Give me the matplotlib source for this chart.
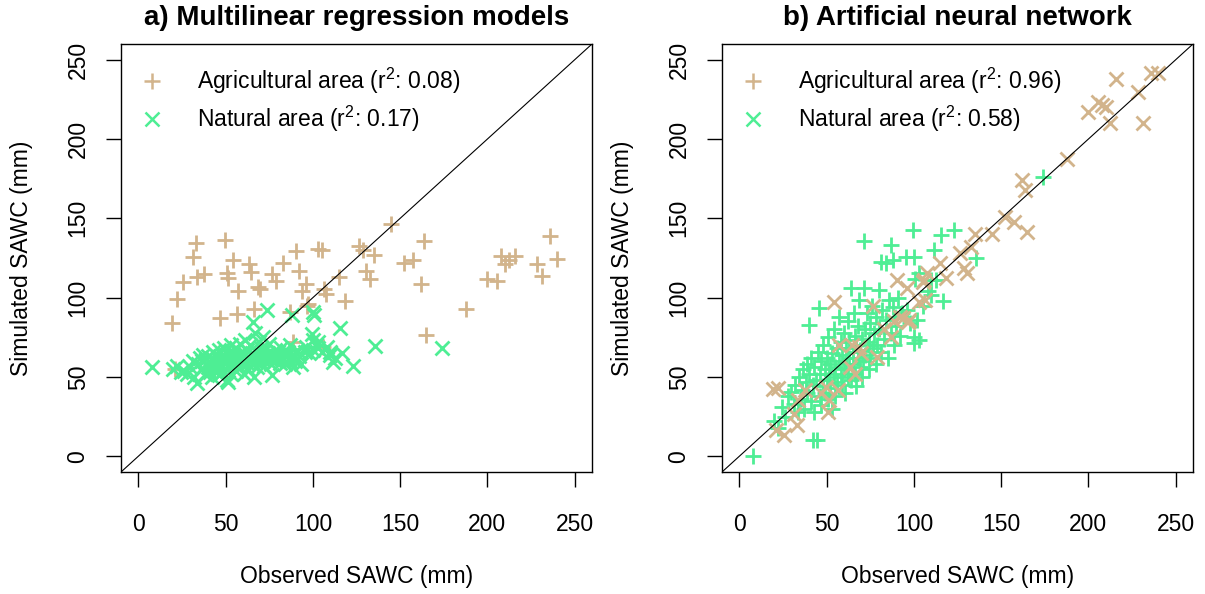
import numpy as np
import matplotlib.pyplot as plt
from matplotlib.lines import Line2D

plt.rcParams['font.family'] = ['Liberation Sans', 'DejaVu Sans']
plt.rcParams['mathtext.default'] = 'regular'

# Agricultural area: observed, simulated (MLR), simulated (ANN)
agr_obs = [19.5, 21, 22, 25.8, 31.5, 33, 33.5, 37.5, 46.8, 49.7, 50.6, 51.6, 54.4, 56.3,
           57.3, 63.4, 64.5, 66, 68.5, 69.7, 76.7, 79, 82.8, 86.6, 88.5, 90.4, 92.2, 94,
           96, 96.4, 97.4, 103, 105.2, 105.8, 106.5, 107.7, 114.8, 118.2, 126.5, 128.5,
           130.5, 133, 135.3, 145, 152.4, 157.2, 162, 163.8, 164.6, 187.6, 200, 205.6,
           207.6, 210, 212.5, 215.7, 228.6, 231.5, 235.7, 240]
agr_mlr = [83.8, 54.8, 98.9, 109.8, 125.7, 134.6, 113, 115.2, 87.3, 136.6, 115.7, 112.5, 124, 89.4,
           104, 121.5, 116, 92.6, 106.9, 105.2, 115.2, 110.5, 122, 90.9, 72, 129.3, 116.7, 104,
           108.3, 94.6, 96, 130.8, 130, 69, 105.2, 102, 113, 97.8, 132.4, 130,
           116.7, 111.5, 127.2, 146.7, 122, 124, 108.3, 135.6, 76.2, 92.6, 111.5, 110.4,
           126, 121, 124, 126, 121, 113.5, 138.7, 124.5]
agr_ann = [42.5, 16.4, 43, 13.2, 26.9, 19.6, 35.3, 41.6, 39.6, 43.7, 28, 35.3, 97.3, 41.6,
           70, 56.3, 70, 52, 69, 64.8, 94.6, 62.6, 80, 75, 85, 111, 87.9, 86.9,
           105.8, 84.7, 85.8, 97.3, 110, 111, 98.4, 115.3, 121.6, 112.1, 127.9, 118.4,
           115.3, 132, 140, 140, 151, 147.8, 174.1, 167.8, 141.5, 187.4, 217.2, 223.5,
           221.5, 220.4, 209.9, 237.7, 229.8, 209.9, 241.4, 241.8]

# Natural area: observed, simulated (MLR), simulated (ANN)
nat_obs = [7.6, 20, 22, 24.6, 26, 28, 29.6, 31, 32, 33.4, 34, 35, 36, 36.5, 37, 38, 38.5, 39,
           40, 40, 41, 41, 42, 42, 43, 43, 44, 44.7, 45, 45.8, 46, 46, 47, 47, 48, 48, 49, 49,
           50, 50, 50.5, 51, 51.5, 52, 52, 53, 53, 54, 54, 55, 55, 56, 56, 57, 57, 58, 58,
           59, 59, 60, 60, 60.5, 61, 61, 62, 62, 63, 63, 64, 64, 65, 65, 65.8, 66, 66, 67, 67,
           68, 68, 68.8, 69, 69, 70, 70, 71, 71.6, 71.6, 72, 72, 73, 73.5, 74, 74, 75, 75,
           76, 76.4, 77, 78, 78, 79, 80, 80.2, 81, 81.2, 82, 83, 84, 84, 85, 86, 86.9, 87,
           87.8, 87.9, 88.8, 89, 90, 91, 92, 93, 95.5, 96, 98, 99.3, 100.2, 100.3, 100.3,
           100.6, 102, 103.2, 103.2, 105, 108, 109.8, 110, 111.7, 112.7, 115.5, 116.5, 123,
           135.6, 173.9]
nat_mlr = [56.5, 55, 57, 53, 54, 52, 56, 60, 50, 46, 58, 62, 55, 60, 64, 52, 58, 61,
           56, 63, 53, 59, 50, 62, 57, 66, 54, 60, 63, 58, 51, 67, 56, 61, 64, 53, 59, 68,
           55, 62, 48, 60, 47, 65, 57, 70, 52, 61, 66, 58, 63, 54, 68, 60, 64, 56, 71,
           62, 58, 66, 60, 52, 64, 73, 59, 67, 62, 55, 70, 61, 65, 58, 84.7, 63, 50, 77.6, 60,
           66, 56, 62, 72, 59, 64, 68, 61, 75, 66, 57, 63, 69, 92, 60, 65, 62, 71,
           58, 51, 64, 67, 60, 63, 66, 62, 59, 64, 68, 61, 65, 58, 63, 66, 70, 60,
           89, 62, 56.3, 64, 60, 67, 63, 58, 66, 69, 65, 76.8, 91, 73, 67,
           89, 70, 68, 72, 66, 69, 64, 66, 59.5, 62, 80.6, 65, 57,
           69.5, 68.5]
nat_ann = [0, 22, 18, 31, 25, 38, 40.6, 33, 45, 28, 50, 36, 42, 55, 30, 47, 58, 40,
           82.6, 52, 35, 62, 10, 45, 28, 56, 48, 10, 66, 93.2, 38, 52, 60, 32, 44, 70, 55, 40,
           62, 48, 36, 75, 52, 58, 43, 65, 30, 50, 80, 56, 38, 68, 47, 60, 88, 52, 72,
           45, 64, 55, 78, 40, 68, 58, 50, 85, 62, 73, 105.8, 48, 66, 58, 90, 76, 52, 70, 44,
           62, 82, 98.4, 56, 67, 74, 50, 60, 135.8, 105.8, 80, 64, 90, 70, 55, 72, 84, 62,
           95, 68, 78, 58, 88, 70, 80, 104.7, 66, 122.6, 92, 74, 121.6, 86, 62, 98.4, 133.1, 78,
           94, 123.7, 70, 88, 82, 100, 76, 90, 125.7, 92, 84, 142.6, 71.1, 125.7, 75.3,
           112, 86, 73.2, 115.3, 95, 104, 101.6, 111, 130, 111, 139.4, 98, 142.6,
           125.3, 176.2]

tan = '#D2B48C'
green = '#4EEE94'
ticks = [0, 50, 100, 150, 200, 250]
fs = 16.5

fig = plt.figure(figsize=(12.05, 5.94), dpi=100)
ax_a = fig.add_axes([121 / 1205, 122 / 594, 471 / 1205, 428 / 594])
ax_b = fig.add_axes([722 / 1205, 122 / 594, 471 / 1205, 428 / 594])


def style(ax, title, labels):
    ax.set_xlim(-10, 260)
    ax.set_ylim(-10, 260)
    ax.set_xticks(ticks)
    ax.set_yticks(ticks)
    ax.tick_params(direction='out', length=10.6, width=1, labelsize=fs)
    ax.tick_params(axis='x', pad=19)
    ax.tick_params(axis='y', pad=12)
    for lab in ax.get_yticklabels():
        lab.set_rotation(90)
        lab.set_va('center')
    for s in ax.spines.values():
        s.set_linewidth(1)
    ax.axline((0, 0), slope=1, color='black', lw=0.8)
    ax.set_title(title, fontsize=20, fontweight='bold', y=1 + 26 / 428, va='center', pad=0)
    ax.set_xlabel('Observed SAWC (mm)', fontsize=fs)
    ax.set_ylabel('Simulated SAWC (mm)', fontsize=fs)
    ax.xaxis.set_label_coords(0.5, -105 / 428)
    ax.yaxis.set_label_coords(-99 / 471, 0.5)
    ax.xaxis.label.set_va('center')
    ax.yaxis.label.set_va('center')
    handles = [Line2D([], [], ls='none', marker='+', color=tan, ms=11, mew=1.8),
               Line2D([], [], ls='none', marker='x', color=green, ms=9.5, mew=1.8)]
    ax.legend(handles, labels, loc='upper left', frameon=False, fontsize=fs,
              borderaxespad=0, borderpad=0.35, handlelength=2, handletextpad=0.95,
              labelspacing=0.33, bbox_to_anchor=(0, 1 - 14 / 428))


# a) MLR: agricultural first, natural on top
ax_a.plot(agr_obs, agr_mlr, ls='none', marker='+', color=tan, ms=12, mew=2)
ax_a.plot(nat_obs, nat_mlr, ls='none', marker='x', color=green, ms=10, mew=2)
style(ax_a, 'a) Multilinear regression models',
      ['Agricultural area (r$^2$: 0.08)', 'Natural area (r$^2$: 0.17)'])

# b) ANN: natural first, agricultural on top
ax_b.plot(nat_obs, nat_ann, ls='none', marker='+', color=green, ms=12, mew=2)
ax_b.plot(agr_obs, agr_ann, ls='none', marker='x', color=tan, ms=10, mew=2)
style(ax_b, 'b) Artificial neural network',
      ['Agricultural area (r$^2$: 0.96)', 'Natural area (r$^2$: 0.58)'])

fig.savefig('out.png', dpi=100)
